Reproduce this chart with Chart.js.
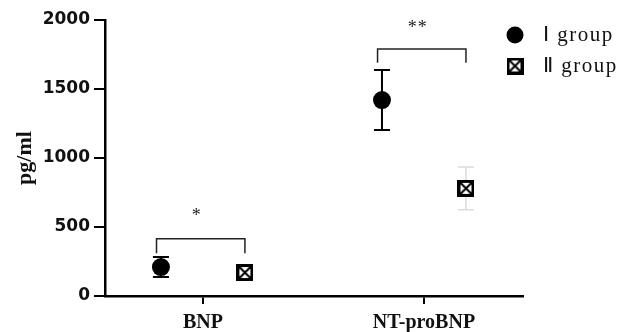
<!DOCTYPE html>
<html>
<head>
<meta charset="utf-8">
<script src="https://cdn.jsdelivr.net/npm/chart.js@4/dist/chart.umd.min.js"></script>
<style>
  html, body { margin: 0; padding: 0; background: #fff; }
  #wrap { width: 638px; height: 332px; }
</style>
</head>
<body>
<div id="wrap"><canvas id="bnp-chart" width="638" height="332"></canvas></div>
<script>
// values
const categories = ['BNP', 'NT-proBNP'];
const group1Mean = [210, 1420];
const group1SD = [73, 218];
const group2Mean = [170, 780];
const group2SD = [45, 155];
const yTicks = [0, 500, 1000, 1500, 2000];
const legendLabels = ['Ⅰ group', 'Ⅱ group'];
const sigLabels = ['*', '**'];
const sigBracket = [415, 1790];   // bracket top
const sigLegEnd = [310, 1690];    // where the bracket legs stop
const sigTextY = [580, 1940];

const offset = 0.19;

// square with an X inside
function makeBoxX(size) {
    const c = document.createElement('canvas');
    c.width = size; c.height = size;
    const g = c.getContext('2d');
    g.fillStyle = '#fff';
    g.fillRect(0, 0, size, size);
    g.strokeStyle = '#000';
    g.lineWidth = 3;
    g.strokeRect(1.5, 1.5, size - 3, size - 3);
    g.lineWidth = 2;
    g.beginPath();
    g.moveTo(3, 3); g.lineTo(size - 3, size - 3);
    g.moveTo(size - 3, 3); g.lineTo(3, size - 3);
    g.stroke();
    return c;
}
const boxX = makeBoxX(17);

const errorBars = {
    id: 'errorBars',
    beforeDatasetsDraw(chart) {
        const { ctx, scales: { x, y } } = chart;
        const sets = [
            { mean: group1Mean, sd: group1SD, dx: -offset, color: '#000', width: 2 },
            { mean: group2Mean, sd: group2SD, dx: offset, color: '#dcdcdc', width: 1.5 }
        ];
        ctx.save();
        sets.forEach(s => {
            ctx.strokeStyle = s.color;
            ctx.lineWidth = s.width;
            s.mean.forEach((m, i) => {
                const px = x.getPixelForValue(i + 1 + s.dx);
                const top = y.getPixelForValue(m + s.sd[i]);
                const bot = y.getPixelForValue(m - s.sd[i]);
                ctx.beginPath();
                ctx.moveTo(px, top); ctx.lineTo(px, bot);
                ctx.moveTo(px - 8, top); ctx.lineTo(px + 8, top);
                ctx.moveTo(px - 8, bot); ctx.lineTo(px + 8, bot);
                ctx.stroke();
            });
        });
        ctx.restore();
    },
    afterDraw(chart) {
        const { ctx, scales: { x, y } } = chart;
        ctx.save();
        // significance brackets
        ctx.strokeStyle = '#222';
        ctx.lineWidth = 1.5;
        ctx.fillStyle = '#222';
        ctx.font = '18px "Liberation Serif"';
        ctx.textAlign = 'center';
        ctx.textBaseline = 'middle';
        ctx.letterSpacing = '1px';
        categories.forEach((c, i) => {
            const x1 = x.getPixelForValue(i + 1 - offset - 0.02);
            const x2 = x.getPixelForValue(i + 1 + offset);
            const yt = y.getPixelForValue(sigBracket[i]);
            const yl = y.getPixelForValue(sigLegEnd[i]);
            ctx.beginPath();
            ctx.moveTo(x1, yl); ctx.lineTo(x1, yt); ctx.lineTo(x2, yt); ctx.lineTo(x2, yl);
            ctx.stroke();
            ctx.fillText(sigLabels[i], (x1 + x2) / 2 - 4, y.getPixelForValue(sigTextY[i]));
        });

        // legend
        ctx.textAlign = 'left';
        ctx.font = '21px "Liberation Serif"';
        ctx.letterSpacing = '1.5px';
        const lx = 515, ly = [35, 66];
        ctx.beginPath();
        ctx.arc(lx, ly[0], 8.5, 0, Math.PI * 2);
        ctx.fillStyle = '#000';
        ctx.fill();
        ctx.drawImage(boxX, lx - 8.5, ly[1] - 8.5);
        ctx.fillStyle = '#111';
        legendLabels.forEach((t, i) => ctx.fillText(t, 543, ly[i]));
        ctx.restore();
    }
};

new Chart(document.getElementById('bnp-chart'), {
    type: 'scatter',
    data: {
        datasets: [{
            label: legendLabels[0],
            data: group1Mean.map((v, i) => ({ x: i + 1 - offset, y: v })),
            pointStyle: 'circle',
            pointRadius: 9,
            backgroundColor: '#000',
            borderWidth: 0
        }, {
            label: legendLabels[1],
            data: group2Mean.map((v, i) => ({ x: i + 1 + offset, y: v })),
            pointStyle: boxX,
            pointRadius: 9
        }]
    },
    options: {
        responsive: false,
        animation: false,
        events: [],
        layout: { padding: { left: 0, top: 20, right: 115, bottom: 0 } },
        plugins: { legend: { display: false }, tooltip: { enabled: false } },
        scales: {
            x: {
                type: 'linear',
                min: 0.557,
                max: 2.448,
                afterBuildTicks: s => { s.ticks = categories.map((c, i) => ({ value: i + 1 })); },
                afterFit: s => { s.height = 36; },
                ticks: {
                    callback: v => categories[v - 1],
                    color: '#111',
                    padding: 7,
                    font: { family: 'Liberation Serif', weight: 'bold', size: 20 }
                },
                grid: { drawOnChartArea: false, tickLength: 8, color: '#000', lineWidth: 2 },
                border: { color: '#000', width: 2.5 }
            },
            y: {
                min: 0,
                max: 2000,
                afterBuildTicks: s => { s.ticks = yTicks.map(v => ({ value: v })); },
                afterFit: s => { s.width = 105; },
                ticks: {
                    callback: v => String(v),
                    color: '#111',
                    padding: 4,
                    font: { family: 'DejaVu Sans', weight: 'bold', size: 17 }
                },
                title: {
                    display: true,
                    text: 'pg/ml',
                    color: '#111',
                    padding: { top: 12, bottom: 0 },
                    font: { family: 'Liberation Serif', weight: 'bold', size: 22 }
                },
                grid: { drawOnChartArea: false, tickLength: 11, color: '#000', lineWidth: 2 },
                border: { color: '#000', width: 2.5 }
            }
        }
    },
    plugins: [errorBars]
});
</script>
</body>
</html>
